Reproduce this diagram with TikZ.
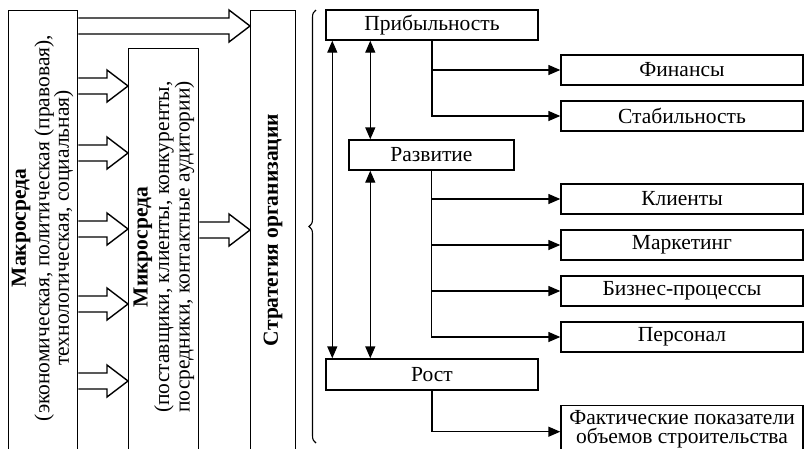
\documentclass[tikz,border=0pt]{standalone}
\usepackage{fontspec}
\setmainfont{Liberation Serif}
\usetikzlibrary{calc,arrows.meta,decorations.pathreplacing}
\tikzset{
  box/.style={draw, line width=1.4pt, inner sep=0pt, font=\fontsize{21.5}{20}\selectfont},
  tall/.style={draw, line width=1.4pt, inner sep=0pt, anchor=north west},
  vtext/.style={rotate=90, align=center, inner sep=0pt, font=\fontsize{21.5}{19.5}\selectfont},
  arr/.style={line width=1.4pt, -{Triangle[length=12pt,width=10pt]}},
  darr/.style={line width=1.4pt, {Triangle[length=12pt,width=10pt]}-{Triangle[length=12pt,width=10pt]}},
  bar/.style={line width=1.4pt, line join=miter},
  brc/.style={line width=1.1pt, decorate, decoration={brace, amplitude=7pt}}
}
\newcommand\barr[3]{%
  \path (#1.east |- 0,#3) coordinate (s) (#2.west |- 0,#3) coordinate (t);
  \draw[bar] ($(s)+(0,-8)$) -- ($(t)+(-21,-8)$) -- ($(t)+(-21,-16)$) -- (t)
    -- ($(t)+(-21,16)$) -- ($(t)+(-21,8)$) -- ($(s)+(0,8)$);}
\begin{document}
\begin{tikzpicture}[x=1pt, y=-1pt]
\useasboundingbox (0,0) rectangle (807,448);
\clip (0,0) rectangle (807,448);
\fill[white] (0,0) rectangle (807,448);

% left tall boxes
\node[tall, minimum width=69pt, minimum height=450pt] (macro) at (8,10) {};
\node[tall, minimum width=70pt, minimum height=412pt] (micro) at (128,48) {};
\node[tall, minimum width=45pt, minimum height=450pt] (strat) at (250,10) {};

\node[vtext] (macrot) at (42.5,228) {\textbf{Макросреда}\\[4pt](экономическая, политическая (правовая),\\технологическая, социальная)};
\node[vtext] (microt) at (164,247) {\textbf{Микросреда}\\[2pt](поставщики, клиенты, конкуренты,\\посредники, контактные аудитории)};
\node[vtext] (stratt) at (273,230) {\textbf{Стратегия организации}};

% block arrows
\barr{macro}{strat}{26}
\barr{macro}{micro}{86}
\barr{macro}{micro}{153}
\barr{macro}{micro}{229}
\barr{macro}{micro}{304}
\barr{macro}{micro}{381}
\barr{micro}{strat}{230}

% brace
\draw[brc] (316,443) -- (316,10);

% right boxes
\node[box, minimum width=212pt, minimum height=30pt] (prib) at (432,25) {Прибыльность};
\node[box, minimum width=165pt, minimum height=30pt] (razv) at (431.5,155) {Развитие};
\node[box, minimum width=212pt, minimum height=31pt] (rost) at (432,374.5) {Рост};

\node[box, minimum width=242pt, minimum height=30pt] (fin) at (682,70) {Финансы};
\node[box, minimum width=242pt, minimum height=30pt] (stab) at (682,116) {Стабильность};
\node[box, minimum width=242pt, minimum height=30pt] (kli) at (682,199) {Клиенты};
\node[box, minimum width=242pt, minimum height=30pt] (mark) at (682,245) {Маркетинг};
\node[box, minimum width=242pt, minimum height=30pt] (biz) at (682,291) {Бизнес-процессы};
\node[box, minimum width=242pt, minimum height=30pt] (pers) at (682,337) {Персонал};
\node[box, minimum width=242pt, minimum height=52pt, anchor=north] (fakt) at (682,405) {};
\node[align=center, inner sep=0pt, font=\fontsize{21.5}{19.5}\selectfont] (faktt) at (682,429) {Фактические показатели\\объемов строительства};

% connectors
\draw[arr] (prib.south) |- (fin.west);
\draw[arr] (prib.south) |- (stab.west);
\draw[arr] (razv.south) |- (kli.west);
\draw[arr] (razv.south) |- (mark.west);
\draw[arr] (razv.south) |- (biz.west);
\draw[arr] (razv.south) |- (pers.west);
\draw[arr] (rost.south) |- (fakt.west);

\coordinate (a) at ($(prib.south west)+(7,0)$);
\draw[darr] (a) -- (a |- rost.north);
\coordinate (b) at ($(prib.south west)+(45,0)$);
\draw[darr] (b) -- (b |- razv.north);
\draw[darr] (b |- razv.south) -- (b |- rost.north);
\end{tikzpicture}
\end{document}
